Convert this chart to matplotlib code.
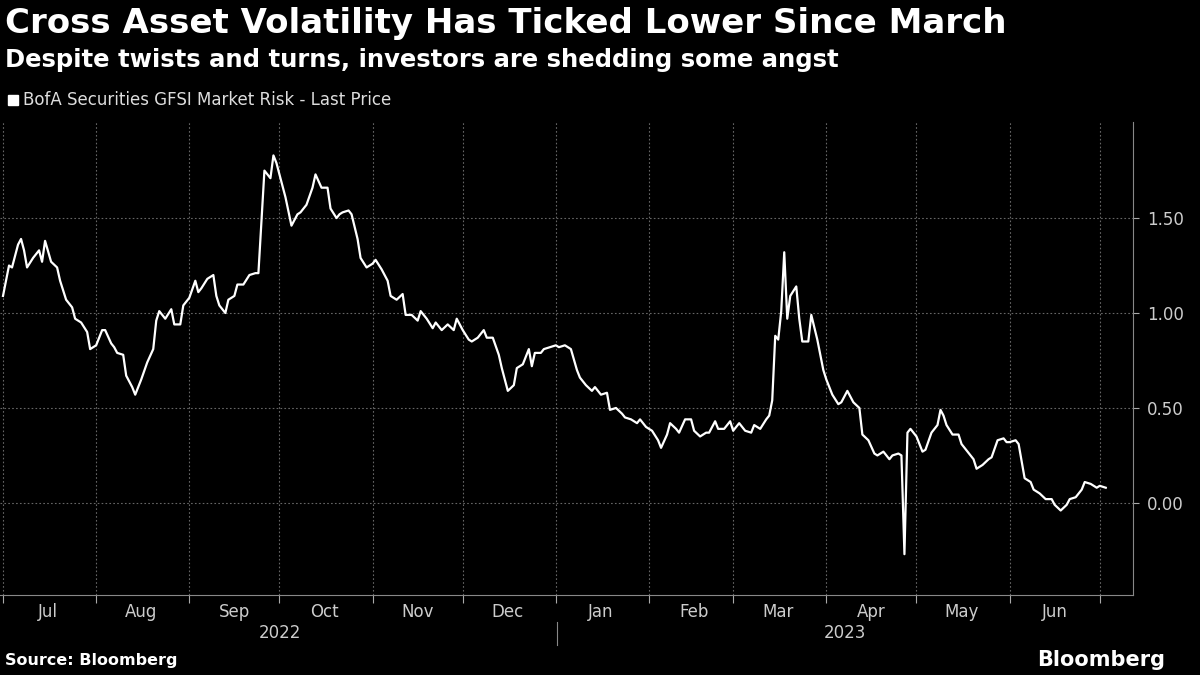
import matplotlib
matplotlib.use("Agg")
import matplotlib.pyplot as plt
import pandas as pd

start_date = "2022-07-01"
days = [0,2,3,5,6,7,8,10,12,13,14,16,18,19,21,23,24,26,28,29,31,33,34,36,
        37,38,40,41,43,44,46,48,50,51,52,54,56,57,59,60,62,64,65,66,68,70,71,72,74,75,77,78,80,82,84,85,87,89,90,91,93,94,96,98,99,101,103,104,106,108,109,111,
        112,113,115,116,118,119,121,123,124,126,128,129,131,133,134,136,138,139,141,143,144,146,148,150,151,153,155,156,158,160,161,163,165,166,168,170,171,173,175,176,177,179,180,182,184,
        185,187,189,191,192,194,196,197,199,201,202,204,206,207,209,211,212,214,216,218,219,221,222,224,225,227,229,230,232,234,235,237,238,240,242,243,245,247,249,250,252,254,255,256,257,258,259,260,
        261,262,264,265,266,268,269,271,273,274,276,278,279,281,283,285,286,288,290,291,293,295,296,298,299,300,301,302,304,306,307,309,311,312,313,314,316,318,319,321,323,324,326,328,329,331,333,334,
        335,337,338,340,342,343,345,347,349,350,352,354,355,357,359,360,362,364,365,367]
values = [1.09,1.25,1.24,1.36,1.39,1.33,1.24,1.29,1.33,1.27,1.38,1.27,1.24,1.17,1.07,1.03,0.97,0.95,0.90,0.81,0.83,0.91,0.91,0.84,0.82,0.79,0.78,0.67,0.61,0.57,0.65,0.74,0.81,0.96,1.01,0.97,1.02,0.94,0.94,1.04,1.08,1.17,1.11,1.13,1.18,1.20,1.09,1.04,1.00,1.07,1.09,1.15,1.15,1.20,1.21,1.21,1.75,1.71,1.83,1.79,1.67,1.61,1.46,1.52,1.53,1.57,1.66,1.73,1.66,1.66,1.55,1.50,1.52,1.53,1.54,1.52,1.39,1.29,1.24,1.26,1.28,1.23,1.17,1.09,1.07,1.10,0.99,0.99,0.96,1.01,0.97,0.92,0.95,0.91,0.94,0.91,0.97,0.91,0.86,0.85,0.87,0.91,0.87,0.87,0.78,0.71,0.59,0.62,0.71,0.73,0.81,0.72,0.79,0.79,0.81,0.82,0.83,0.82,0.83,0.81,0.70,0.66,0.62,0.59,0.61,0.57,0.58,0.49,0.50,0.47,0.45,0.44,0.42,0.44,0.40,0.38,0.33,0.29,0.36,0.42,0.39,0.37,0.44,0.44,0.38,0.35,0.37,0.37,0.43,0.39,0.39,0.43,0.38,0.42,0.38,0.37,0.41,0.39,0.44,0.46,0.54,0.88,0.86,1.01,1.32,0.97,1.09,1.14,0.97,0.85,0.85,0.99,0.86,0.70,0.65,0.57,0.52,0.53,0.59,0.53,0.50,0.36,0.33,0.26,0.25,0.27,0.23,0.25,0.26,0.25,-0.27,0.37,0.39,0.35,0.27,0.28,0.37,0.41,0.49,0.46,0.41,0.36,0.36,0.31,0.27,0.23,0.18,0.20,0.23,0.24,0.33,0.34,0.32,0.32,0.33,0.31,0.13,0.11,0.07,0.05,0.02,0.02,-0.01,-0.04,-0.01,0.02,0.03,0.07,0.11,0.10,0.08,0.09,0.08]
n = min(len(days), len(values))
dates = pd.Timestamp(start_date) + pd.to_timedelta(days[:n], unit="D")
values = values[:n]

month_labels = ["Jul","Aug","Sep","Oct","Nov","Dec","Jan","Feb","Mar","Apr","May","Jun"]
yticks = [0.0, 0.5, 1.0, 1.5]

fig = plt.figure(figsize=(12, 6.75), dpi=100, facecolor="black")
ax = fig.add_axes([0.0, 0.1185, 0.944, 0.7005], facecolor="black")
ax.plot(dates, values, color="white", lw=1.6)
ax.set_xlim(pd.Timestamp("2022-06-30"), pd.Timestamp("2023-07-12"))
ax.set_ylim(-0.485, 2.005)

ax.yaxis.tick_right()
ax.set_yticks(yticks)
ax.set_yticklabels([f"{v:.2f}" for v in yticks], color="#cccccc", fontsize=12)
ax.tick_params(axis="y", length=4, color="#aaaaaa", pad=6)

month_starts = pd.date_range("2022-07-01", "2023-07-01", freq="MS")
ax.set_xticks(month_starts)
ax.set_xticklabels([])
ax.tick_params(axis="x", length=6, color="#aaaaaa")
mids = [m + pd.Timedelta(days=15) for m in month_starts[:-1]]
ax.set_xticks(mids, minor=True)
ax.set_xticklabels(month_labels, minor=True, color="#cccccc", fontsize=12)
ax.tick_params(axis="x", which="minor", length=0, pad=6)

ax.grid(True, which="major", color="#666666", linestyle=(0, (1.5, 2)), lw=0.8)
for s in ["top", "left"]:
    ax.spines[s].set_visible(False)
ax.spines["bottom"].set_color("#888888")
ax.spines["right"].set_color("#888888")

fig.text(280/1200, 1-633/675, "2022", color="#cccccc", fontsize=12, ha="center", va="center")
fig.text(845/1200, 1-633/675, "2023", color="#cccccc", fontsize=12, ha="center", va="center")
fig.add_artist(plt.Line2D([557/1200, 557/1200], [1-622/675, 1-645/675], color="#888888", lw=0.8))

fig.text(0.004, 1-24/675, "Cross Asset Volatility Has Ticked Lower Since March", color="white",
         fontsize=24.5, fontweight="bold", va="center")
fig.text(0.004, 1-60/675, "Despite twists and turns, investors are shedding some angst", color="white",
         fontsize=17.5, fontweight="bold", va="center")
fig.add_artist(plt.Rectangle((8/1200, 1-105/675), 10/1200, 10/675, color="white"))
fig.text(23/1200, 1-100/675, "BofA Securities GFSI Market Risk - Last Price", color="#dddddd",
         fontsize=12, va="center")
fig.text(0.004, 1-661/675, "Source: Bloomberg", color="white", fontsize=11.5, fontweight="bold", va="center")
fig.text(1165/1200, 1-660/675, "Bloomberg", color="white", fontsize=15, fontweight="bold", va="center", ha="right")

fig.savefig("out.png", dpi=100, facecolor="black")
